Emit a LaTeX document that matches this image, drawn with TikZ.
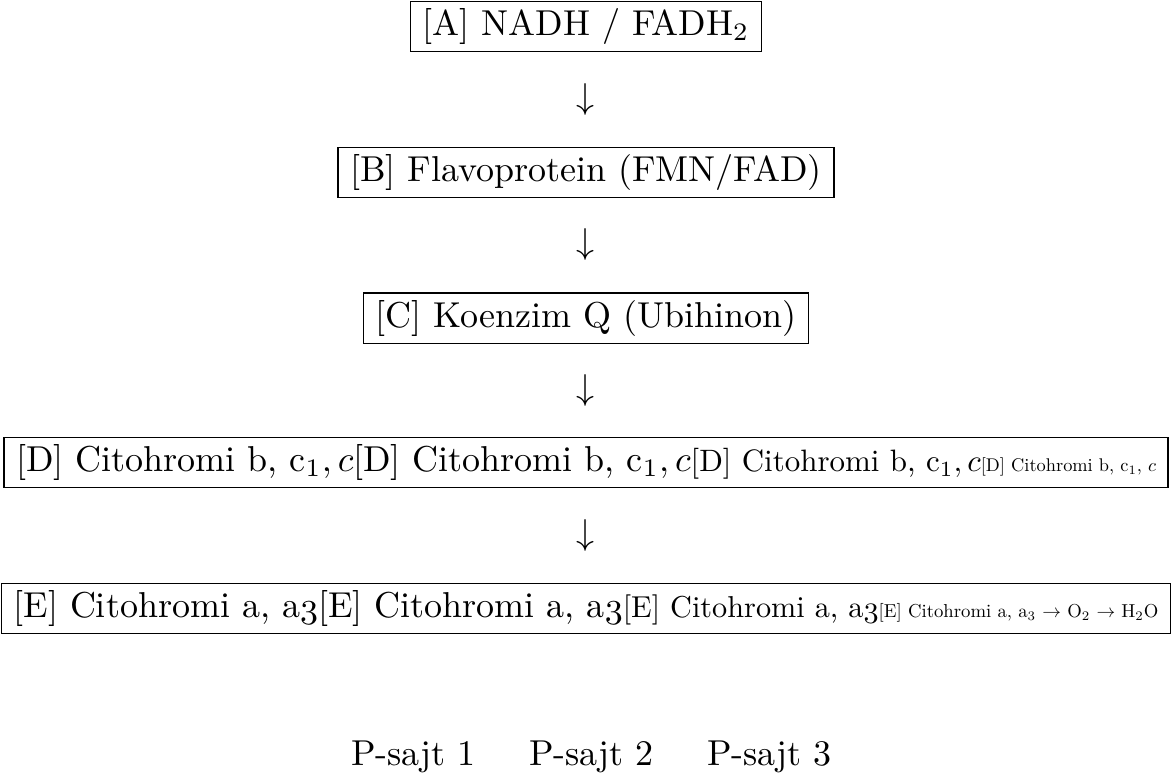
\documentclass[tikz,border=0pt]{standalone}
\usepackage{tikz}
\usetikzlibrary{positioning}
\tikzset{stage/.style={draw, inner xsep=3.33pt, inner ysep=2pt}}
\tikzset{flow/.style={inner sep=0pt}}
\usepackage{amsmath,graphicx}
\newcommand{\cytD}{[D] Citohromi b, c$_1, c$}
\newcommand{\cytE}{[E] Citohromi a, a$\mathnormal{3}$}

\begin{document}
\begin{tikzpicture}
                \useasboundingbox (-5.721,0) rectangle (5.721,-7.547);
                \node[stage] (A) at (0,-0.259) {[A] NADH / FADH$_2$};
                \node[stage] (B) at (0,-1.684) {[B] Flavoprotein (FMN/FAD)};
                \node[stage] (C) at (0,-3.105) {[C] Koenzim Q (Ubihinon)};
                \node[stage] (D) at (0,-4.515) {\cytD\cytD\scalebox{0.86}{\cytD}\scalebox{0.51}{[D] Citohromi b, c$_1$, $c$}};
                \node[stage] (E) at (0,-5.941) {\cytE\cytE\scalebox{0.84}{\cytE}\scalebox{0.52}{[E] Citohromi a, a$_3$ $\rightarrow$\ O$_2$ $\rightarrow$ H$_2$O}};

                \node[flow] (AB) at (0,-0.967) {$\downarrow$};
                \node[flow] (BC) at (0,-2.387) {$\downarrow$};
                \node[flow] (CD) at (0,-3.808) {$\downarrow$};
                \node[flow] (DE) at (0,-5.228) {$\downarrow$};

                \node[anchor=base] (P1) at (-1.684,-7.469) {P-sajt 1};
                \node[anchor=base] (P2) at (0.054,-7.469) {P-sajt 2};
                \node[anchor=base] (P3) at (1.792,-7.469) {P-sajt 3};
            \end{tikzpicture}
\end{document}
